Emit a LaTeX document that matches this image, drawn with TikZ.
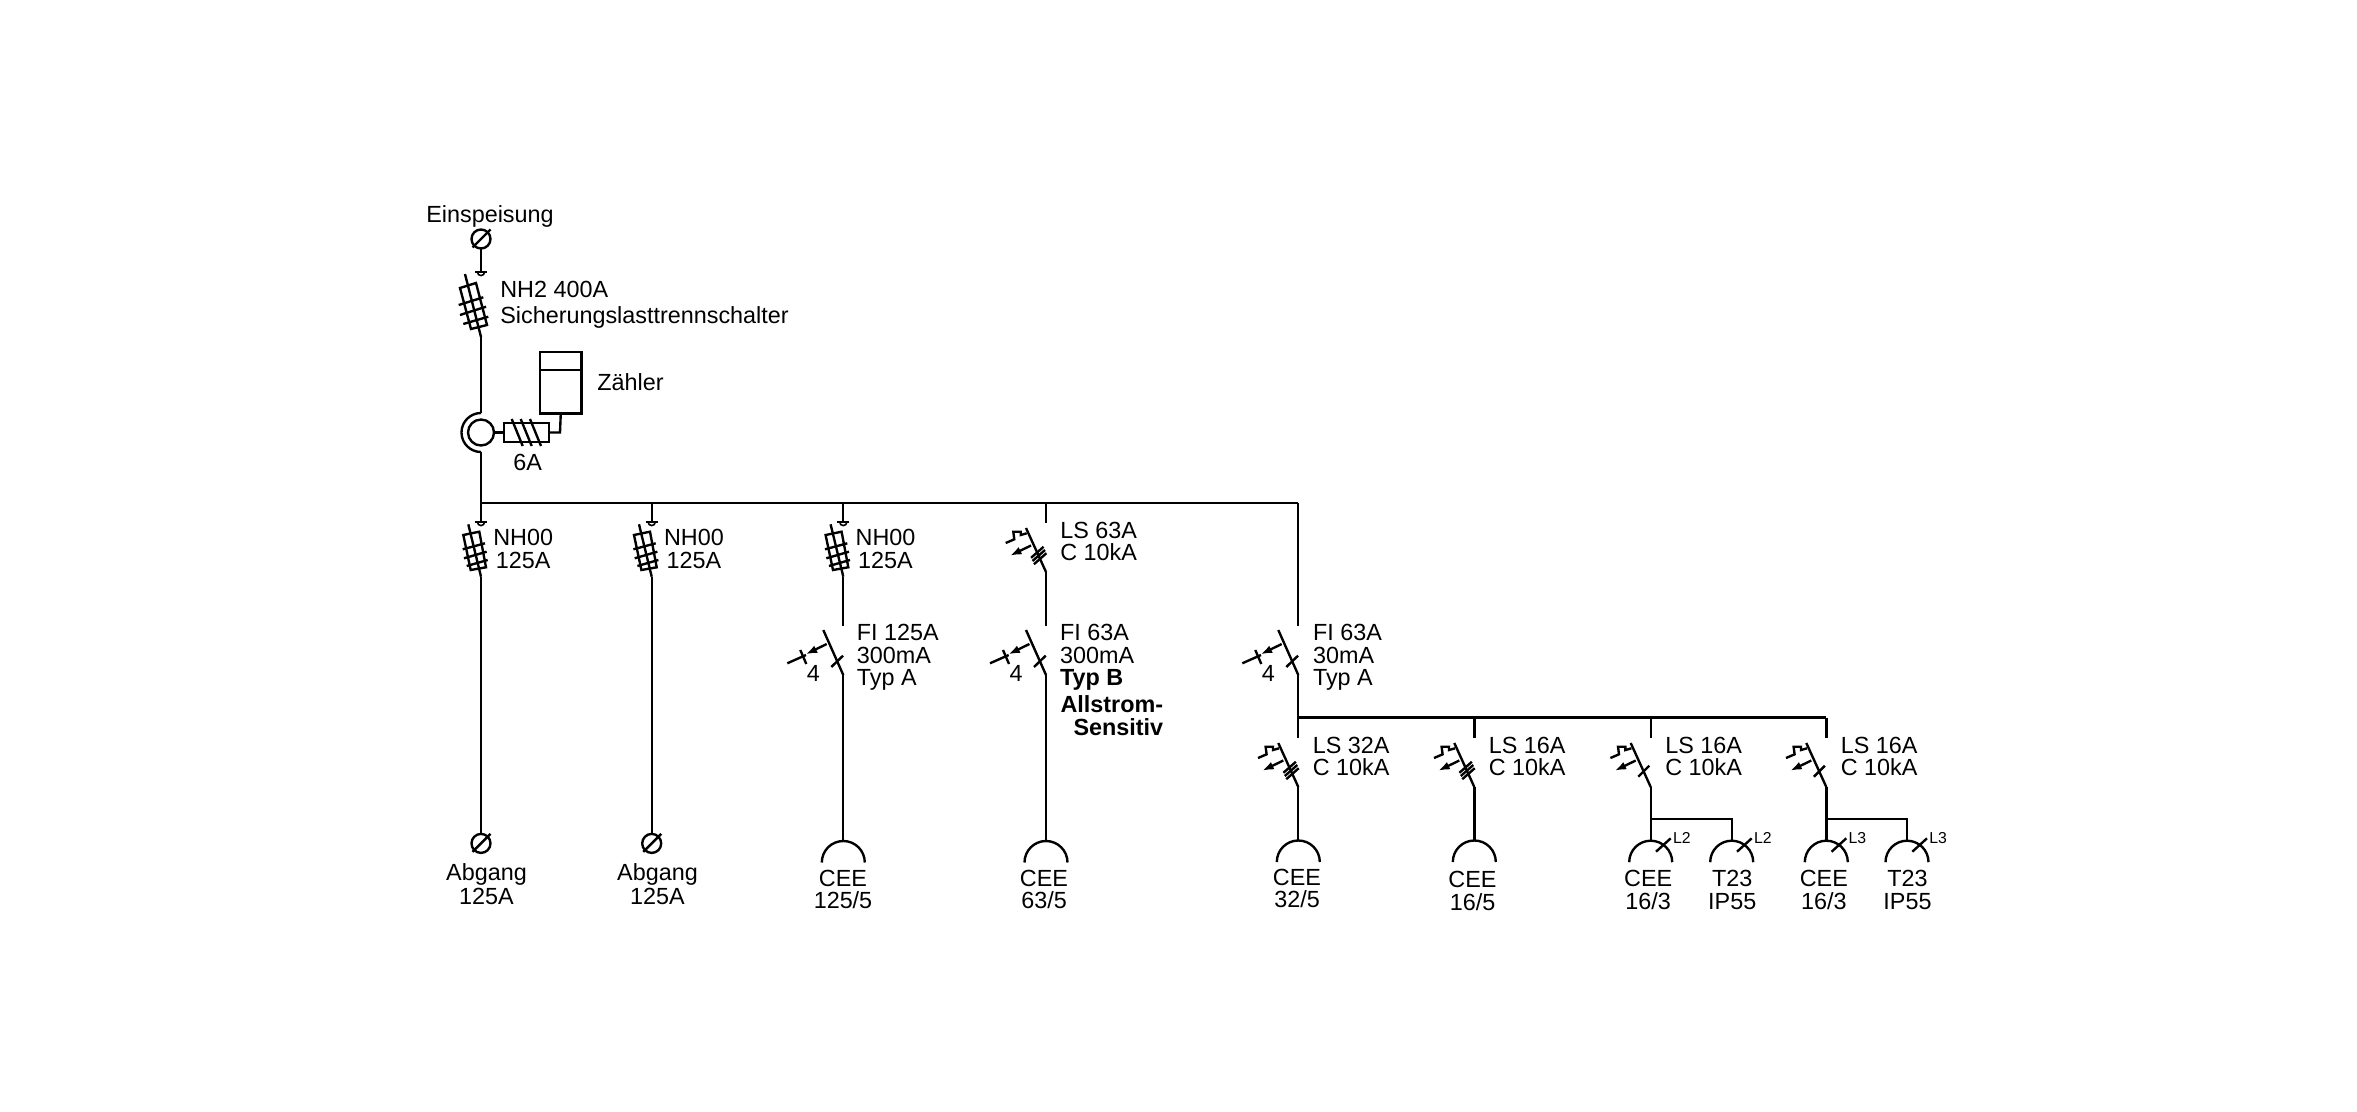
\documentclass[tikz,border=0pt]{standalone}
\usepackage{fontspec}
\setmainfont{Liberation Sans}
\usetikzlibrary{arrows.meta,calc,positioning}

\begin{document}
\begin{tikzpicture}[x=0.02cm, y=-0.02cm]
    \tikzset{
        wire/.style={line width=1.35pt},
        thinwire/.style={line width=0.9pt},
        trippin/.style={wire, -{Latex[length=6.5pt,width=4.6pt]}},
        lbl/.style={font=\fontsize{13.3}{12.9}\selectfont, inner sep=0pt, anchor=base west, align=left},
        lblwide/.style={lbl, font=\fontsize{13.3}{14.7}\selectfont},
        lblmid/.style={font=\fontsize{13.3}{14.7}\selectfont, inner sep=0pt, anchor=base, align=center},
        lblout/.style={font=\fontsize{13.3}{12.2}\selectfont, inner sep=0pt, anchor=base, align=center},
        lblphase/.style={font=\fontsize{9}{10}\selectfont, inner sep=0pt, anchor=base west},
        pics/terminal/.style={code={
            \draw[wire] (0,0) circle (9.5);
            \draw[wire] (-8.5,8.5) -- (9.5,-9.5);
            \coordinate (-top) at (0,-9.5);
            \coordinate (-bot) at (0,9.5);
        }},
        pics/disconnect/.style={code={
            \draw[wire] (-6,0) -- (6,0);
            \draw[thinwire] (-3.6,0) arc[start angle=180, end angle=0, radius=3.6];
        }},
        pics/fusebig/.style={code={
            \pic {disconnect};
            \draw[wire] (-21,16) -- (-5,11) -- (6,53) -- (-10,57) -- cycle;
            \draw[wire] (-16,2) -- (0,65);
            \draw[wire] (-22.3,33) -- (2.3,25.3);
            \draw[wire] (-21,43) -- (5,34.7);
            \draw[wire] (-17.7,52) -- (7.3,44.7);
            \coordinate (-out) at (0,65);
        }},
        pics/fusesmall/.style={code={
            \pic {disconnect};
            \draw[wire] (-17.7,13) -- (-1.7,9.7) -- (5,45.3) -- (-10.3,48) -- cycle;
            \draw[wire] (-12.7,2.3) -- (0,54.7);
            \draw[wire] (-18.3,27.3) -- (4,21.3);
            \draw[wire] (-17,36.3) -- (5.7,29.7);
            \draw[wire] (-14.3,44) -- (6.7,38);
            \coordinate (-out) at (0,54.7);
        }},
        pics/rcd/.style={code={
            \draw[wire] (-20,4) -- (0,49);
            \draw[wire] (-12,41) -- (-0.3,29.7);
            \draw[trippin] (-16.6,18) -- (-37.6,28.3);
            \draw[wire] (-43,24) -- (-37,38);
            \draw[wire] (-56,37.3) -- (-37.3,29);
            \node[lblmid] (-poles) at (-30,55.7) {4};
            \coordinate (-out) at (0,49);
        }},
        pics/breaker/.style={code={
            \draw[wire] (-20,5) -- (0,49);
            \draw[wire] (-40.3,20) -- (-31.7,16.3) -- (-32.7,8.7) -- (-25.3,8.7) -- (-25.3,12) -- (-19.3,10.3);
            \draw[trippin] (-15,22.5) -- (-36,32.7);
            \coordinate (-out) at (0,49);
        }},
        pics/trip1/.style={code={
            \draw[wire] (-12.4,38.7) -- (-1.4,27.7);
        }},
        pics/trip3/.style={code={
            \foreach \d in {-3.2,0,3.2} {
                \draw[wire] ($(-13.5,38)+(0.45*\d,\d)$) -- ($(-1,27)+(0.45*\d,\d)$);
            }
        }},
        pics/socket/.style={code={
            \draw[wire] (-21.5,21.5) arc[start angle=180, end angle=0, x radius=21.5, y radius=-21.5];
            \coordinate (-top) at (0,0);
        }},
        pics/phasemark/.style={code={
            \draw[wire] (5.3,11) -- (20,-2.4);
        }}
    }
    \useasboundingbox (0,0) rectangle (2357,1112);

    % feed-in and meter
    \node[lblmid] (feedtxt) at (490,222) {Einspeisung};
    \pic (feed) at (481,239) {terminal};
    \pic (mainfuse) at (481,272) {fusebig};
    \coordinate (mainjoin) at (481,272);
    \draw[wire] (feed-bot) -- (mainjoin);
    \node[lblwide] (mainfusetxt) at (500,323) {NH2 400A\\Sicherungslasttrennschalter};

    \coordinate (ctup) at (481,413);
    \coordinate (ctdown) at (481,452);
    \node[circle, draw, line width=1.35pt, inner sep=0pt, minimum size=0.52cm] (ct) at (481,432.5) {};
    \draw[wire] (mainfuse-out) -- (ctup);
    \draw[wire] (ctup) arc[start angle=-90, end angle=-270, x radius=19.5, y radius=19.5];

    \node[draw, line width=1.35pt, inner sep=0pt, minimum width=0.9cm, minimum height=0.38cm] (ctfuse) at (526.5,432.5) {};
    \foreach \x in {511.7,520.7,530} {
        \draw[wire] (\x,419) -- (\x+11,446);
    }
    \node[draw, line width=1.35pt, inner sep=0pt, minimum width=0.83cm, minimum height=1.228cm, anchor=north west] (meter) at (538.8,350.8) {};
    \draw[wire] (meter.north west |- 0,370) -- (meter.north east |- 0,370);
    \draw[wire] (ct.east) -- (ctfuse.west);
    \draw[wire] (ctfuse.east) -- (560,432.5) -- (meter.south);
    \node[lbl] (metertxt) at (597,390) {Zähler};
    \node[lblmid] (cttxt) at (527.7,470) {6A};

    % main busbar
    \coordinate (busa) at (481,503);
    \coordinate (busc) at (843.3,503);
    \coordinate (busd) at (1046,503);
    \coordinate (buse) at (1298.3,503);
    \draw[wire] (ctdown) -- (busa) -- (buse);

    % outgoing feeders with terminals
    \foreach \name/\x in {one/481, two/651.7} {
        \pic (fuse\name) at (\x,522) {fusesmall};
        \coordinate (top\name) at (\x,522);
        \coordinate (bar\name) at (\x,503);
        \draw[wire] (bar\name) -- (top\name);
        \pic (end\name) at (\x,843.4) {terminal};
        \draw[wire] (fuse\name-out) -- (end\name-top);
    }
    \node[lbl, align=center] (txtone) at (493,568) {NH00\\125A};
    \node[lbl, align=center] (txttwo) at (663.7,568) {NH00\\125A};
    \node[lblmid, font=\fontsize{13.3}{13.6}\selectfont] (abgone) at (486.5,904) {Abgang\\125A};
    \node[lblmid, font=\fontsize{13.3}{13.6}\selectfont] (abgtwo) at (657.5,904) {Abgang\\125A};

    % feeder CEE 125/5
    \pic (fusec) at (843.3,522) {fusesmall};
    \draw[wire] (busc) -- (843.3,522);
    \node[lbl, align=center] (txtc) at (855.3,568) {NH00\\125A};
    \coordinate (rcdctop) at (843.3,626);
    \draw[wire] (fusec-out) -- (rcdctop);
    \pic (rcdc) at (rcdctop) {rcd};
    \node[lbl] (rcdctxt) at (856.5,685.7) {FI 125A\\300mA\\Typ A};
    \pic (sockc) at (843.3,841) {socket};
    \draw[wire] (rcdc-out) -- (sockc-top);
    \node[lblout] (socktxtc) at (843,908) {CEE\\125/5};

    % feeder CEE 63/5
    \coordinate (lsdtop) at (1046,523);
    \draw[wire] (busd) -- (lsdtop);
    \pic (lsd) at (lsdtop) {breaker};
    \pic at (lsdtop) {trip3};
    \node[lbl] (lsdtxt) at (1060,560.7) {LS 63A\\C 10kA};
    \coordinate (rcddtop) at (1046,626);
    \draw[wire] (lsd-out) -- (rcddtop);
    \pic (rcdd) at (rcddtop) {rcd};
    \node[lbl] (rcddtxt) at (1059.7,685.7) {FI 63A\\300mA\\\textbf{Typ B}};
    \node[lbl, anchor=base east, align=right, font=\fontsize{13.3}{12.9}\selectfont\bfseries] (rcddbold) at (1163.5,735) {Allstrom-\\Sensitiv};
    \pic (sockd) at (1046,841) {socket};
    \draw[wire] (rcdd-out) -- (sockd-top);
    \node[lblout] (socktxtd) at (1044,908) {CEE\\63/5};

    % sub distribution behind FI 63A 30mA
    \coordinate (rcdetop) at (1298.3,626);
    \draw[wire] (buse) -- (rcdetop);
    \pic (rcde) at (rcdetop) {rcd};
    \node[lbl] (rcdetxt) at (1312.7,685.7) {FI 63A\\30mA\\Typ A};
    \coordinate (suba) at (1298.3,717.6);
    \coordinate (subb) at (1474.3,717.6);
    \coordinate (subc) at (1650.7,717.6);
    \coordinate (subd) at (1826.3,717.6);
    \draw[wire] (rcde-out) -- (suba) -- (subd);

    \foreach \name/\x/\amps/\trip in {a/1298.3/32/trip3, b/1474.3/16/trip3, c/1650.7/16/trip1, d/1826.3/16/trip1} {
        \coordinate (lstop\name) at (\x,738);
        \draw[wire] (sub\name) -- (lstop\name);
        \pic (ls\name) at (lstop\name) {breaker};
        \pic at (lstop\name) {\trip};
        \node[lbl] (lstxt\name) at (\x+14.2,775.7) {LS \amps A\\C 10kA};
    }

    \pic (socka) at (1298.3,840.5) {socket};
    \draw[wire] (lsa-out) -- (socka-top);
    \node[lblout] (socktxta) at (1297,907.3) {CEE\\32/5};
    \pic (sockb) at (1474.3,840.5) {socket};
    \draw[wire] (lsb-out) -- (sockb-top);
    \node[lblout, font=\fontsize{13.3}{13}\selectfont] (socktxtb) at (1472.5,910) {CEE\\16/5};

    % single phase outlets
    \foreach \name/\x/\xb/\ph in {c/1650.7/1731.7/L2, d/1826.3/1907/L3} {
        \coordinate (split\name) at (\x,819.3);
        \coordinate (splitb\name) at (\xb,819.3);
        \pic (sock\name) at (\x,840.7) {socket};
        \pic (socko\name) at (\xb,840.7) {socket};
        \draw[wire] (ls\name-out) -- (sock\name-top);
        \draw[wire] (split\name) -- (splitb\name) -- (socko\name-top);
        \pic at (\x,840.7) {phasemark};
        \pic at (\xb,840.7) {phasemark};
        \node[lblphase] (ph\name) at (\x+22,843.3) {\ph};
        \node[lblphase] (pho\name) at (\xb+22,843.3) {\ph};
        \node[lblout, font=\fontsize{13.3}{13}\selectfont] (socktxt\name) at (\x-2.5,909.3) {CEE\\16/3};
        \node[lblout, font=\fontsize{13.3}{13}\selectfont] (sockotxt\name) at (\xb+0.5,909.3) {T23\\IP55};
    }
\end{tikzpicture}
\end{document}
